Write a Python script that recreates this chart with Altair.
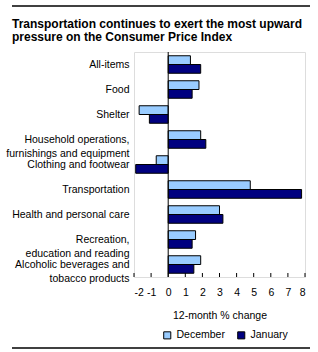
import altair as alt
import pandas as pd

categories = [
    "All-items",
    "Food",
    "Shelter",
    "Household operations,|furnishings and equipment",
    "Clothing and footwear",
    "Transportation",
    "Health and personal care",
    "Recreation,|education and reading",
    "Alcoholic beverages and|tobacco products",
]
december = [1.3, 1.8, -1.7, 1.9, -0.7, 4.8, 3.0, 1.6, 1.9]
january = [1.9, 1.4, -1.1, 2.2, -1.9, 7.8, 3.2, 1.4, 1.5]
series = ["December", "January"]
tick_values = [-2, -1, 0, 1, 2, 3, 4, 5, 6, 7, 8]
zero_value = [0]
colors = ["#99CCFF", "#000080"]

rows = []
for c, d, j in zip(categories, december, january):
    rows.append({"category": c, "series": "December", "value": d})
    rows.append({"category": c, "series": "January", "value": j})
df = pd.DataFrame(rows)
ticks_df = pd.DataFrame({"t": tick_values})
zero_df = pd.DataFrame({"z": zero_value})

FONT = "Liberation Sans"
W, H = 171, 225
xscale = alt.Scale(domain=[-2, 8], nice=False, zero=False)
xtitle = "12-month % change"

def x_axis():
    return alt.Axis(
        title=xtitle,
        values=tick_values,
        labelExpr="'' + datum.value",
        labelOverlap=False,
        ticks=False,
        domain=False,
        grid=False,
        labelFontSize=10.5,
        labelPadding=10,
        labelColor="black",
        labelFont=FONT,
        titleFontSize=10.5,
        titleFontWeight="normal",
        titleFont=FONT,
        titleColor="black",
        titlePadding=13,
    )

bars = alt.Chart(df).mark_bar(stroke="black", strokeWidth=1).encode(
    y=alt.Y(
        "category:N",
        sort=categories,
        scale=alt.Scale(paddingInner=0.3, paddingOuter=0.15),
        axis=alt.Axis(
            title=None,
            ticks=False,
            domain=False,
            labelExpr="split(datum.label, '|')",
            labelFontSize=10.5,
            labelLineHeight=14,
            labelPadding=5,
            labelLimit=300,
            labelColor="black",
            labelFont=FONT,
        ),
    ),
    yOffset=alt.YOffset("series:N", sort=series),
    x=alt.X("value:Q", scale=xscale, axis=x_axis()),
    color=alt.Color(
        "series:N",
        scale=alt.Scale(domain=series, range=colors),
        legend=alt.Legend(
            title=None,
            orient="none",
            legendX=28,
            legendY=278,
            direction="horizontal",
            symbolType="square",
            symbolSize=50,
            symbolStrokeColor="black",
            symbolStrokeWidth=1,
            labelFontSize=10.5,
            labelFont=FONT,
            labelColor="black",
            columnPadding=10,
        ),
    ),
)

zero = alt.Chart(zero_df).mark_rule(color="black", strokeWidth=1).encode(
    x=alt.X("z:Q", scale=xscale, axis=x_axis())
)

inner_ticks = alt.Chart(ticks_df).mark_rule(color="black", strokeWidth=1).encode(
    x=alt.X("t:Q", scale=xscale, axis=x_axis()),
    y=alt.value(H - 4),
    y2=alt.value(H),
)

one = pd.DataFrame({"a": [0]})
top_line = alt.Chart(one).mark_rule(color="black", strokeWidth=1.5).encode(
    x=alt.value(-122), x2=alt.value(176), y=alt.value(-46)
)
bottom_line = alt.Chart(one).mark_rule(color="black", strokeWidth=1.5).encode(
    x=alt.value(-122), x2=alt.value(176), y=alt.value(296)
)

chart = alt.layer(bars, zero, inner_ticks, top_line, bottom_line).properties(
    width=W,
    height=H,
    autosize=alt.AutoSizeParams(type="none"),
    padding={"left": 134, "top": 52, "right": 13, "bottom": 75},
    title=alt.Title(
        ["Transportation continues to exert the most upward", "pressure on the Consumer Price Index"],
        anchor="start",
        frame="group",
        dx=-122,
        offset=-39,
        baseline="top",
        fontSize=12,
        fontWeight="bold",
        font=FONT,
        color="black",
        lineHeight=13.5,
    ),
).configure_view(stroke="black", strokeWidth=1).configure(background="white")

chart.save("out.html", embed_options={"renderer": "svg", "actions": False})
